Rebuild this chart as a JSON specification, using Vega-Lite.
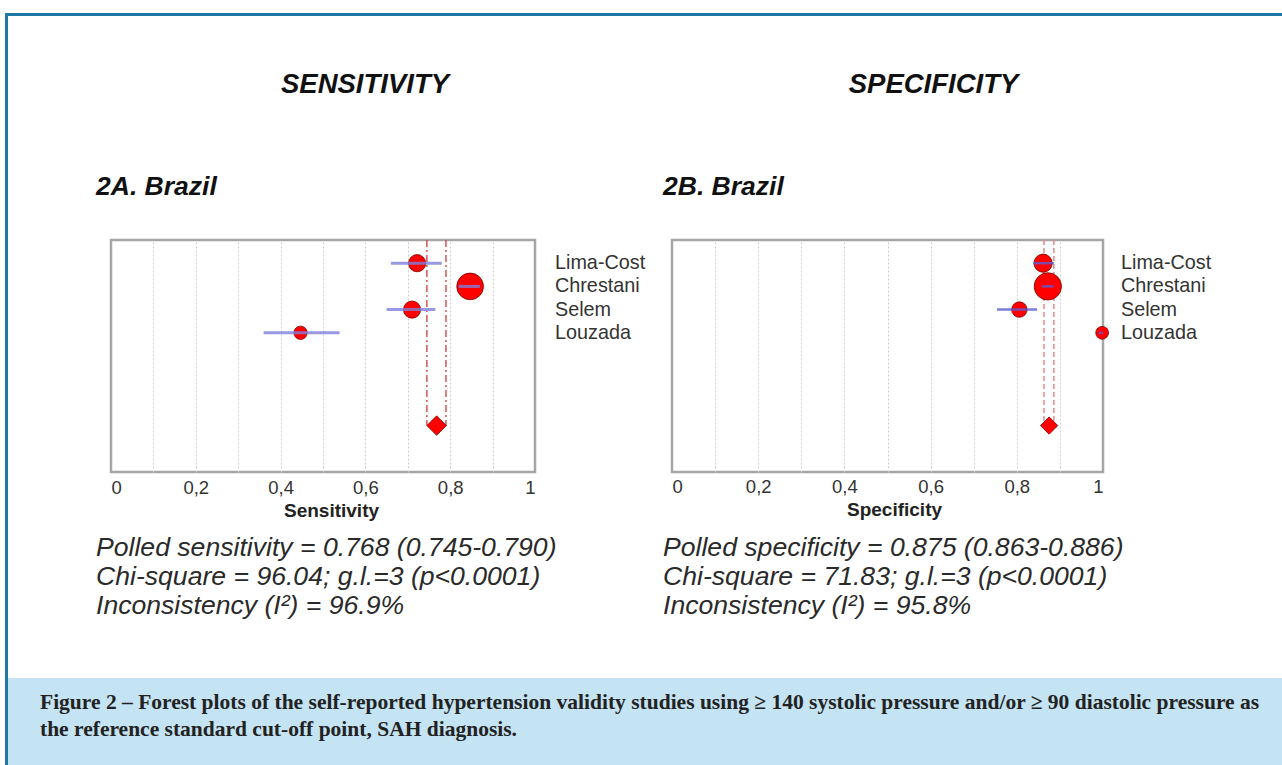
{
  "$schema": "https://vega.github.io/schema/vega-lite/v6.json",
  "padding": {"left": 5, "top": 13, "right": 0, "bottom": 0},
  "background": "#ffffff",
  "config": {"font": "Liberation Sans", "view": {"stroke": null}},
  "datasets": {
    "forest": [
      {"panel": "Sensitivity", "study": "Lima-Cost", "kind": "study", "row": 1, "est": 0.722, "lo": 0.66, "hi": 0.78, "weight": 19.9},
      {"panel": "Sensitivity", "study": "Chrestani", "kind": "study", "row": 2, "est": 0.847, "lo": 0.82, "hi": 0.87, "weight": 48.2},
      {"panel": "Sensitivity", "study": "Selem", "kind": "study", "row": 3, "est": 0.71, "lo": 0.65, "hi": 0.765, "weight": 19.9},
      {"panel": "Sensitivity", "study": "Louzada", "kind": "study", "row": 4, "est": 0.447, "lo": 0.36, "hi": 0.539, "weight": 12.0},
      {"panel": "Sensitivity", "study": "Pooled", "kind": "pooled", "row": 8, "est": 0.768, "lo": 0.745, "hi": 0.79},
      {"panel": "Specificity", "study": "Lima-Cost", "kind": "study", "row": 1, "est": 0.861, "lo": 0.838, "hi": 0.886, "weight": 22.4},
      {"panel": "Specificity", "study": "Chrestani", "kind": "study", "row": 2, "est": 0.872, "lo": 0.858, "hi": 0.885, "weight": 50.4},
      {"panel": "Specificity", "study": "Selem", "kind": "study", "row": 3, "est": 0.806, "lo": 0.754, "hi": 0.847, "weight": 16.2},
      {"panel": "Specificity", "study": "Louzada", "kind": "study", "row": 4, "est": 0.998, "lo": 0.99, "hi": 1.0, "weight": 11.0},
      {"panel": "Specificity", "study": "Pooled", "kind": "pooled", "row": 8, "est": 0.875, "lo": 0.863, "hi": 0.886}
    ],
    "none": []
  },
  "columns": 6,
  "bounds": "flush",
  "spacing": 0,
  "align": "each",
  "concat": [
    {"width": 3, "height": 3, "view": {"fill": "#1f77a6"}, "data": {"name": "none"}, "mark": "point"},
    {"width": 103, "height": 3, "view": {"fill": "#1f77a6"}, "data": {"name": "none"}, "mark": "point"},
    {"width": 424, "height": 3, "view": {"fill": "#1f77a6"}, "data": {"name": "none"}, "mark": "point"},
    {"width": 137, "height": 3, "view": {"fill": "#1f77a6"}, "data": {"name": "none"}, "mark": "point"},
    {"width": 431, "height": 3, "view": {"fill": "#1f77a6"}, "data": {"name": "none"}, "mark": "point"},
    {"width": 179, "height": 3, "view": {"fill": "#1f77a6"}, "data": {"name": "none"}, "mark": "point"},

    {"width": 3, "height": 224, "view": {"fill": "#1f77a6"}, "data": {"name": "none"}, "mark": "point"},
    {"width": 103, "height": 224, "data": {"name": "none"}, "mark": "point"},
    {
      "width": 424, "height": 224, "data": {"name": "none"}, "mark": "point",
      "title": {"text": "SENSITIVITY", "orient": "top", "anchor": "middle", "frame": "group", "dx": 42, "offset": -82,
        "font": "Liberation Sans", "fontSize": 27.5, "fontStyle": "italic", "fontWeight": "bold", "color": "#111111"}
    },
    {"width": 137, "height": 224, "data": {"name": "none"}, "mark": "point"},
    {
      "width": 431, "height": 224, "data": {"name": "none"}, "mark": "point",
      "title": {"text": "SPECIFICITY", "orient": "top", "anchor": "middle", "frame": "group", "dx": 46, "offset": -82,
        "font": "Liberation Sans", "fontSize": 27.5, "fontStyle": "italic", "fontWeight": "bold", "color": "#111111"}
    },
    {"width": 179, "height": 224, "data": {"name": "none"}, "mark": "point"},

    {"width": 3, "height": 232, "view": {"fill": "#1f77a6"}, "data": {"name": "none"}, "mark": "point"},
    {"width": 103, "height": 232, "data": {"name": "none"}, "mark": "point"},
    {
      "width": 424, "height": 232,
      "data": {"name": "forest"},
      "transform": [{"filter": "datum.panel == 'Sensitivity'"}],
      "title": {"text": "2A. Brazil", "anchor": "start", "frame": "group", "dx": -15, "offset": 39,
        "font": "Liberation Sans", "fontSize": 26.5, "fontStyle": "italic", "fontWeight": "bold", "color": "#111111"},
      "view": {"stroke": "#a6a6a6", "strokeWidth": 2.5, "fill": "#ffffff"},
      "encoding": {"y": {"field": "row", "type": "quantitative", "scale": {"domain": [0, 10], "reverse": true}, "axis": null}},
      "layer": [
        {
          "transform": [{"filter": "datum.kind == 'pooled'"}, {"fold": ["lo", "hi"], "as": ["bound", "xval"]}],
          "mark": {"type": "rule", "color": "#cc3b3b", "strokeDash": [7, 3, 2, 3], "strokeWidth": 1.3},
          "encoding": {
            "x": {
              "field": "xval", "type": "quantitative", "title": "Sensitivity",
              "scale": {"domain": [0, 1], "nice": false},
              "axis": {
                "values": [0, 0.1, 0.2, 0.3, 0.4, 0.5, 0.6, 0.7, 0.8, 0.9, 1],
                "labelExpr": "datum.value == 0 ? '0' : datum.value == 1 ? '1' : (round(datum.value * 10) % 2 == 0 ? replace(format(datum.value, '.1f'), '.', ',') : '')",
                "grid": true, "gridColor": "#cfcfcf", "gridDash": [2, 2], "gridWidth": 1,
                "gridOpacity": {"condition": {"test": "datum.value == 0 || datum.value == 1", "value": 0}, "value": 1},
                "domain": false, "ticks": false,
                "labelFontSize": 18.5, "labelColor": "#333333", "labelPadding": 6,
                "titleFontSize": 19, "titleFontWeight": "bold", "titleColor": "#222222", "titlePadding": 5, "titleX": 220
              }
            },
            "y": {"datum": 0},
            "y2": {"field": "row"}
          }
        },
        {
          "transform": [{"filter": "datum.kind == 'study'"}],
          "mark": {"type": "point", "shape": "circle", "filled": true, "fill": "#ff0000", "stroke": "#7a0000", "strokeWidth": 0.8, "opacity": 1},
          "encoding": {
            "x": {"field": "est", "type": "quantitative", "title": "Sensitivity"},
            "size": {"field": "weight", "type": "quantitative", "scale": {"domain": [0, 50], "range": [0, 740]}, "legend": null}
          }
        },
        {
          "transform": [{"filter": "datum.kind == 'study'"}],
          "mark": {"type": "rule", "color": "#8080dc", "strokeWidth": 3, "opacity": 0.8},
          "encoding": {"x": {"field": "lo", "type": "quantitative", "title": "Sensitivity"}, "x2": {"field": "hi"}}
        },
        {
          "transform": [{"filter": "datum.kind == 'pooled'"}],
          "mark": {"type": "point", "shape": "diamond", "filled": true, "fill": "#ff0000", "stroke": "#7a0000", "strokeWidth": 0.8, "size": 380, "opacity": 1},
          "encoding": {"x": {"field": "est", "type": "quantitative", "title": "Sensitivity"}}
        },
        {
          "transform": [{"filter": "datum.kind == 'study'"}],
          "mark": {"type": "text", "align": "left", "baseline": "middle", "dx": 20, "fontSize": 19.8, "color": "#333333", "font": "Liberation Sans"},
          "encoding": {"x": {"datum": 1}, "text": {"field": "study"}}
        }
      ]
    },
    {"width": 137, "height": 232, "data": {"name": "none"}, "mark": "point"},
    {
      "width": 431, "height": 232,
      "data": {"name": "forest"},
      "transform": [{"filter": "datum.panel == 'Specificity'"}],
      "title": {"text": "2B. Brazil", "anchor": "start", "frame": "group", "dx": -9, "offset": 39,
        "font": "Liberation Sans", "fontSize": 26.5, "fontStyle": "italic", "fontWeight": "bold", "color": "#111111"},
      "view": {"stroke": "#a6a6a6", "strokeWidth": 2.5, "fill": "#ffffff"},
      "encoding": {"y": {"field": "row", "type": "quantitative", "scale": {"domain": [0, 10], "reverse": true}, "axis": null}},
      "layer": [
        {
          "transform": [{"filter": "datum.kind == 'pooled'"}, {"fold": ["lo", "hi"], "as": ["bound", "xval"]}],
          "mark": {"type": "rule", "color": "#e48a8a", "strokeDash": [5, 3], "strokeWidth": 1.5},
          "encoding": {
            "x": {
              "field": "xval", "type": "quantitative", "title": "Specificity",
              "scale": {"domain": [0, 1], "nice": false},
              "axis": {
                "values": [0, 0.1, 0.2, 0.3, 0.4, 0.5, 0.6, 0.7, 0.8, 0.9, 1],
                "labelExpr": "datum.value == 0 ? '0' : datum.value == 1 ? '1' : (round(datum.value * 10) % 2 == 0 ? replace(format(datum.value, '.1f'), '.', ',') : '')",
                "grid": true, "gridColor": "#cfcfcf", "gridDash": [2, 2], "gridWidth": 1,
                "gridOpacity": {"condition": {"test": "datum.value == 0 || datum.value == 1", "value": 0}, "value": 1},
                "domain": false, "ticks": false,
                "labelFontSize": 18.5, "labelColor": "#333333", "labelPadding": 5,
                "titleFontSize": 19, "titleFontWeight": "bold", "titleColor": "#222222", "titlePadding": 5, "titleX": 222
              }
            },
            "y": {"datum": 0},
            "y2": {"field": "row"}
          }
        },
        {
          "transform": [{"filter": "datum.kind == 'study'"}],
          "mark": {"type": "point", "shape": "circle", "filled": true, "fill": "#ff0000", "stroke": "#7a0000", "strokeWidth": 0.8, "opacity": 1},
          "encoding": {
            "x": {"field": "est", "type": "quantitative", "title": "Specificity"},
            "size": {"field": "weight", "type": "quantitative", "scale": {"domain": [0, 50], "range": [0, 740]}, "legend": null}
          }
        },
        {
          "transform": [{"filter": "datum.kind == 'study'"}],
          "mark": {"type": "rule", "color": "#5c5cd0", "strokeWidth": 2.5, "opacity": 0.8},
          "encoding": {"x": {"field": "lo", "type": "quantitative", "title": "Specificity"}, "x2": {"field": "hi"}}
        },
        {
          "transform": [{"filter": "datum.kind == 'pooled'"}],
          "mark": {"type": "point", "shape": "diamond", "filled": true, "fill": "#ff0000", "stroke": "#7a0000", "strokeWidth": 0.8, "size": 300, "opacity": 1},
          "encoding": {"x": {"field": "est", "type": "quantitative", "title": "Specificity"}}
        },
        {
          "transform": [{"filter": "datum.kind == 'study'"}],
          "mark": {"type": "text", "align": "left", "baseline": "middle", "dx": 18, "fontSize": 19.8, "color": "#333333", "font": "Liberation Sans"},
          "encoding": {"x": {"datum": 1}, "text": {"field": "study"}}
        }
      ]
    },
    {"width": 179, "height": 232, "data": {"name": "none"}, "mark": "point"},

    {"width": 3, "height": 206, "view": {"fill": "#1f77a6"}, "data": {"name": "none"}, "mark": "point"},
    {"width": 103, "height": 206, "data": {"name": "none"}, "mark": "point"},
    {
      "width": 424, "height": 206, "data": {"name": "none"}, "mark": "point",
      "title": {"text": ["Polled sensitivity = 0.768 (0.745-0.790)", "Chi-square = 96.04; g.l.=3 (p<0.0001)", "Inconsistency (I²) = 96.9%"],
        "orient": "top", "anchor": "start", "frame": "group", "dx": -15, "offset": -169, "baseline": "alphabetic",
        "font": "Liberation Sans", "fontSize": 26.6, "fontStyle": "italic", "fontWeight": "normal", "lineHeight": 29, "color": "#2a2a2a"}
    },
    {"width": 137, "height": 206, "data": {"name": "none"}, "mark": "point"},
    {
      "width": 431, "height": 206, "data": {"name": "none"}, "mark": "point",
      "title": {"text": ["Polled specificity = 0.875 (0.863-0.886)", "Chi-square = 71.83; g.l.=3 (p<0.0001)", "Inconsistency (I²) = 95.8%"],
        "orient": "top", "anchor": "start", "frame": "group", "dx": -9, "offset": -169, "baseline": "alphabetic",
        "font": "Liberation Sans", "fontSize": 26.6, "fontStyle": "italic", "fontWeight": "normal", "lineHeight": 29, "color": "#2a2a2a"}
    },
    {"width": 179, "height": 206, "data": {"name": "none"}, "mark": "point"},

    {"width": 3, "height": 87, "view": {"fill": "#1f77a6"}, "data": {"name": "none"}, "mark": "point"},
    {"width": 103, "height": 87, "view": {"fill": "#c4e3f3"}, "data": {"name": "none"}, "mark": "point"},
    {"width": 424, "height": 87, "view": {"fill": "#c4e3f3"}, "data": {"name": "none"}, "mark": "point"},
    {"width": 137, "height": 87, "view": {"fill": "#c4e3f3"}, "data": {"name": "none"}, "mark": "point"},
    {"width": 431, "height": 87, "view": {"fill": "#c4e3f3"}, "data": {"name": "none"}, "mark": "point"},
    {
      "width": 179, "height": 87, "view": {"fill": "#c4e3f3"}, "data": {"name": "none"}, "mark": "point",
      "title": {"text": ["Figure 2 – Forest plots of the self-reported hypertension validity studies using ≥ 140 systolic pressure and/or ≥ 90 diastolic pressure as", "the reference standard cut-off point, SAH diagnosis."],
        "orient": "top", "anchor": "start", "align": "left", "frame": "group", "offset": -79, "baseline": "alphabetic", "dx": -1063,
        "font": "Liberation Serif", "fontSize": 21.5, "fontWeight": "bold", "color": "#222222", "lineHeight": 27}
    }
  ]
}
